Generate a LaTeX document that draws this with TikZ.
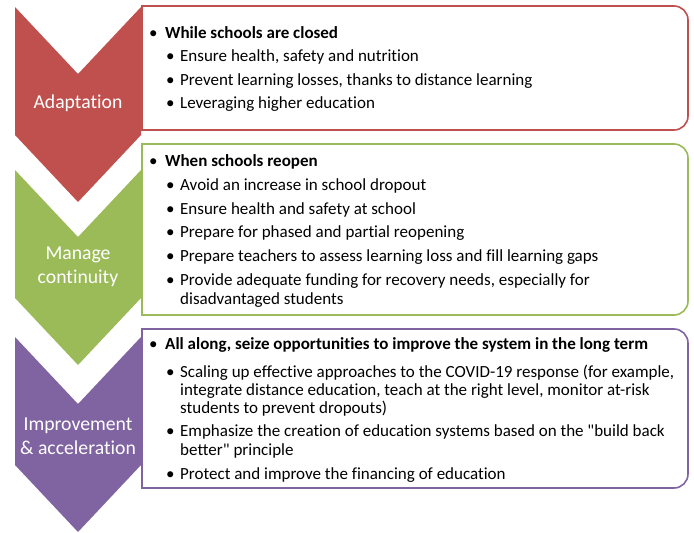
\documentclass[tikz,border=0pt]{standalone}
\usepackage{fontspec}
\setmainfont{Carlito}[Ligatures={TeXOff,NoCommon}]
\definecolor{adred}{HTML}{C0504D}
\definecolor{adgreen}{HTML}{9BBB59}
\definecolor{adpurple}{HTML}{8064A2}

\begin{document}
\begin{tikzpicture}[x=1pt,y=-1pt,
	chevron/.style={fill=#1},
	frame/.style={draw=#1,line width=1.6pt},
	lab/.style={text=white,align=center,inner sep=0pt,font=\fontsize{19.7}{24}\selectfont},
	head/.style={anchor=base west,inner sep=0pt,font=\fontsize{17}{20}\selectfont\bfseries,
		execute at begin node={\llap{\normalfont\textbullet\hspace{7.5pt}}}},
	item/.style={anchor=base west,inner sep=0pt,font=\fontsize{17}{20}\selectfont,
		execute at begin node={\llap{\textbullet\hspace{5.5pt}}}},
	cont/.style={anchor=base west,inner sep=0pt,font=\fontsize{17}{20}\selectfont}]
				\useasboundingbox (0,0) rectangle (694,533);
				\foreach \c/\t/\b in {adred/6/130,adgreen/144/315,adpurple/329/488}
				\draw[frame=\c] (142,\b) -- (142,\t) [rounded corners=14pt] -- (688,\t) -- (688,\b) [sharp corners] -- cycle;
				\foreach \c/\t in {adred/7,adgreen/170,adpurple/337}
				\fill[chevron=\c] (15,\t) -- ++(63,67) -- ++(63,-67) -- ++(0,128) -- ++(-63,67) -- ++(-63,-67) -- cycle;
				\node[lab] (adapt) at (78,103) {Adaptation};
				\node[lab] (manage) at (78,267) {Manage\\continuity};
				\node[lab] (improve) at (78,436) {Improvement\\\& acceleration};

				\node[head] (closed) at (165,38) {While schools are closed};
				\foreach \yy/\txt [count=\n] in {61/{Ensure health, safety and nutrition},
					85/{Prevent learning losses, thanks to distance learning},
					108/{Leveraging higher education}}
				\node[item] (closed\n) at (180,\yy) {\txt};

				\node[head] (reopen) at (165,166) {When schools reopen};
				\foreach \yy/\txt [count=\n] in {190/{Avoid an increase in school dropout},
					214/{Ensure health and safety at school},
					237/{Prepare for phased and partial reopening},
					261/{Prepare teachers to assess learning loss and fill learning gaps},
					285/{Provide adequate funding for recovery needs, especially for}}
				\node[item] (reopen\n) at (180,\yy) {\txt};
				\node[cont] (reopen5b) at (180,304) {disadvantaged students};

				\node[head] (along) at (165,349) {All along, seize opportunities to improve the system in the long term};
				\foreach \yy/\txt [count=\n] in {377/{Scaling up effective approaches to the COVID-19 response (for example,},
					436/{Emphasize the creation of education systems based on the "build back},
					479/{Protect and improve the financing of education}}
				\node[item] (along\n) at (180,\yy) {\txt};
				\node[cont] (along1b) at (180,395) {integrate distance education, teach at the right level, monitor at-risk};
				\node[cont] (along1c) at (180,413) {students to prevent dropouts)};
				\node[cont] (along2b) at (180,455) {better" principle};
			\end{tikzpicture}
\end{document}
